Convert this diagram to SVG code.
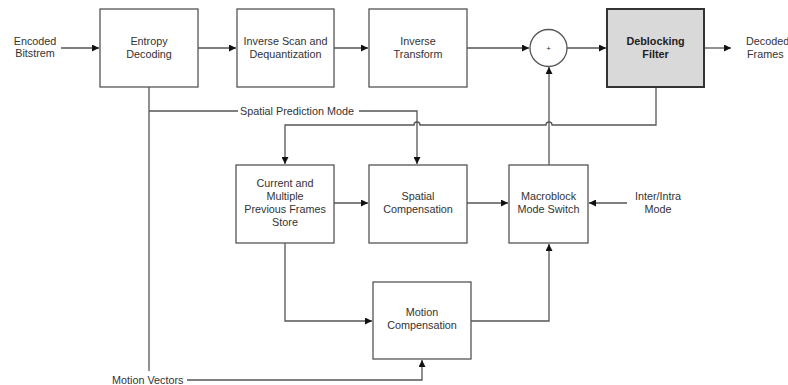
<svg xmlns="http://www.w3.org/2000/svg" width="788" height="385" viewBox="0 0 788 385">
<defs>
<marker id="ah" markerUnits="userSpaceOnUse" markerWidth="8" markerHeight="7" refX="7" refY="3.5" orient="auto">
<path d="M0,0 L7,3.5 L0,7 z" fill="#111"/>
</marker>
</defs>
<style>
.box{fill:#fff;stroke:#555;stroke-width:1.3}
.db{fill:#d9d9d9;stroke:#333;stroke-width:2}
.t{font-family:"Liberation Sans",Arial,sans-serif;font-size:10.8px;fill:#333;text-anchor:middle}
.tl{font-family:"Liberation Sans",Arial,sans-serif;font-size:10.8px;fill:#333}
.b{font-weight:bold;fill:#222}
.c{fill:none;stroke:#555;stroke-width:1.3}
.a{marker-end:url(#ah)}
</style>
<rect width="788" height="385" fill="#fff"/>
<g id="connectors">
<path class="c a" d="M61,48 H99"/>
<path class="c a" d="M198,48 H236"/>
<path class="c a" d="M334,48 H368"/>
<path class="c a" d="M467,48 H529"/>
<path class="c a" d="M567,48 H606"/>
<path class="c a" d="M704,48 H731"/>
<path class="c" d="M149,87 V371"/>
<path class="c" d="M149,111 H238"/>
<path class="c a" d="M359,111 H417 V164"/>
<path class="c a" d="M656,87 V125 H552 A3,3 0 0 0 546,125 H420 A3,3 0 0 0 414,125 H285 V164"/>
<path class="c a" d="M549,165 V67"/>
<path class="c a" d="M334,203 H368"/>
<path class="c a" d="M467,203 H508"/>
<path class="c a" d="M627,203 H589"/>
<path class="c a" d="M285,243 V321 H372"/>
<path class="c a" d="M471,321 H549 V244"/>
<path class="c a" d="M187,380 H422 V360"/>
</g>
<g id="in-label"><text class="t" x="35" y="45">Encoded</text><text class="t" x="35" y="57">Bitstrem</text></g>
<g id="entropy"><rect class="box" x="100" y="9" width="98" height="78"/><text class="t" x="149" y="45">Entropy</text><text class="t" x="149" y="57.5">Decoding</text></g>
<g id="invscan"><rect class="box" x="237" y="9" width="97" height="78"/><text class="t" x="285.5" y="45">Inverse Scan and</text><text class="t" x="285.5" y="57.5">Dequantization</text></g>
<g id="invtrans"><rect class="box" x="369" y="9" width="98" height="78"/><text class="t" x="418" y="45">Inverse</text><text class="t" x="418" y="57.5">Transform</text></g>
<g id="sum"><circle class="box" cx="548.5" cy="48" r="18.5"/><text class="t" x="548.5" y="51" style="font-size:8px">+</text></g>
<g id="deblock"><rect class="db" x="607" y="9" width="97" height="78"/><text class="t b" x="655.5" y="45">Deblocking</text><text class="t b" x="655.5" y="57.5">Filter</text></g>
<g id="out-label"><text class="tl" x="746" y="45">Decoded</text><text class="tl" x="747" y="57.5">Frames</text></g>
<g id="spm-label"><text class="tl" x="240" y="114.5">Spatial Prediction Mode</text></g>
<g id="store"><rect class="box" x="236" y="165" width="98" height="78"/><text class="t" x="285" y="187">Current and</text><text class="t" x="285" y="200">Multiple</text><text class="t" x="285" y="213">Previous Frames</text><text class="t" x="285" y="226">Store</text></g>
<g id="spatial"><rect class="box" x="369" y="165" width="98" height="78"/><text class="t" x="418" y="200">Spatial</text><text class="t" x="418" y="213">Compensation</text></g>
<g id="mbswitch"><rect class="box" x="509" y="165" width="79" height="78"/><text class="t" x="548.5" y="200">Macroblock</text><text class="t" x="548.5" y="213">Mode Switch</text></g>
<g id="mode-label"><text class="t" x="658" y="200">Inter/Intra</text><text class="t" x="658" y="213">Mode</text></g>
<g id="motion"><rect class="box" x="373" y="282" width="98" height="77"/><text class="t" x="422" y="316">Motion</text><text class="t" x="422" y="329">Compensation</text></g>
<g id="mv-label"><text class="tl" x="112" y="383.5">Motion Vectors</text></g>
</svg>
